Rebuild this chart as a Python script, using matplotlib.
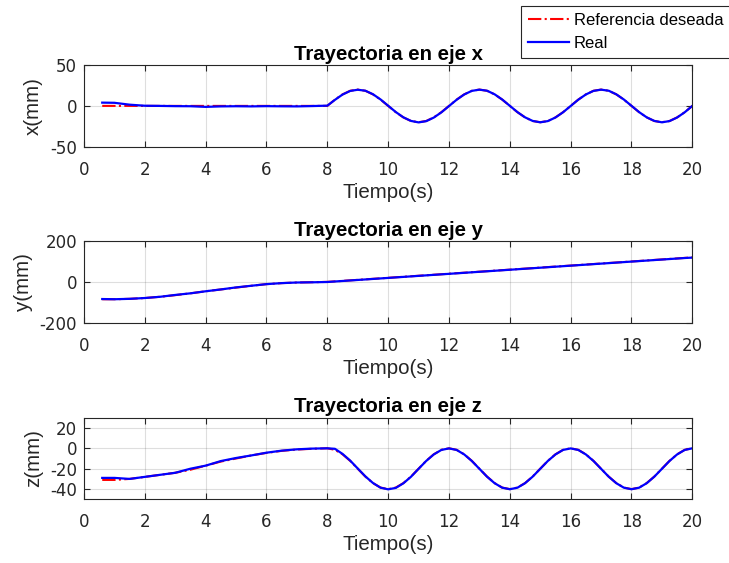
import numpy as np
import matplotlib.pyplot as plt

# tick labels look wide in the original, DejaVu Sans is closer; the rest is Arial-like
plt.rcParams['font.family'] = ['DejaVu Sans']
plt.rcParams['axes.unicode_minus'] = False
txt_font = ['Liberation Sans', 'DejaVu Sans']

# tiempo (s)
t = [0.6, 1.0, 1.5, 2.0, 2.5, 3.0, 3.5, 4.0, 4.5, 5.0, 5.5, 6.0, 6.5, 7.0, 7.5,
     8.0, 8.25, 8.5, 8.75, 9.0, 9.25, 9.5, 9.75, 10.0, 10.25, 10.5, 10.75, 11.0,
     11.25, 11.5, 11.75, 12.0, 12.25, 12.5, 12.75, 13.0, 13.25, 13.5, 13.75, 14.0,
     14.25, 14.5, 14.75, 15.0, 15.25, 15.5, 15.75, 16.0, 16.25, 16.5, 16.75, 17.0,
     17.25, 17.5, 17.75, 18.0, 18.25, 18.5, 18.75, 19.0, 19.25, 19.5, 19.75, 20.0]

# eje x
x_ref = [0, 0, 0, 0, 0, 0, 0, 0, 0, 0, 0, 0, 0, 0, 0,
         0, 7.7, 14.1, 18.5, 20, 18.5, 14.1, 7.7, 0, -7.7, -14.1, -18.5, -20,
         -18.5, -14.1, -7.7, 0, 7.7, 14.1, 18.5, 20, 18.5, 14.1, 7.7, 0,
         -7.7, -14.1, -18.5, -20, -18.5, -14.1, -7.7, 0, 7.7, 14.1, 18.5, 20,
         18.5, 14.1, 7.7, 0, -7.7, -14.1, -18.5, -20, -18.5, -14.1, -7.7, 0]
x_real = [4.0, 3.8, 1.5, 0.2, 0.0, -0.3, -0.4, -1.2, -0.6, -0.4, -0.6, -0.3, -0.5, -0.6, -0.2,
          0.3, 7.4, 13.9, 18.3, 19.8, 18.6, 14.3, 7.9, 0.2, -7.5, -14.0, -18.4, -20.2,
          -18.7, -14.3, -7.9, -0.2, 7.5, 14.0, 18.4, 19.9, 18.6, 14.2, 7.8, 0.1,
          -7.6, -14.0, -18.4, -20.1, -18.6, -14.2, -7.8, -0.1, 7.6, 14.0, 18.4, 19.9,
          18.6, 14.2, 7.8, 0.1, -7.6, -14.0, -18.4, -20.1, -18.6, -14.2, -7.8, 0.0]

# eje y
y_ref = [-85, -85, -83, -79, -73, -65, -56, -46, -37, -28, -19, -11, -6, -3, -1.5,
         0, 2.5, 5, 7.5, 10, 12.5, 15, 17.5, 20, 22.5, 25, 27.5, 30,
         32.5, 35, 37.5, 40, 42.5, 45, 47.5, 50, 52.5, 55, 57.5, 60,
         62.5, 65, 67.5, 70, 72.5, 75, 77.5, 80, 82.5, 85, 87.5, 90,
         92.5, 95, 97.5, 100, 102.5, 105, 107.5, 110, 112.5, 115, 117.5, 120]
y_real = [-84, -85, -83, -79, -73, -64, -56, -46, -37, -27, -19, -11, -6, -3, -2,
          -0.5, 2, 4.5, 7, 9.5, 12, 14.5, 17, 19.5, 22, 24.5, 27, 29.5,
          32, 34.5, 37, 39.5, 42, 44.5, 47, 49.5, 52, 54.5, 57, 59.5,
          62, 64.5, 67, 69.5, 72, 74.5, 77, 79.5, 82, 84.5, 87, 89.5,
          92, 94.5, 97, 99.5, 102, 104.5, 107, 109.5, 112, 114.5, 117, 119]

# eje z
z_ref = [-31, -31, -30, -28, -26, -24, -21, -17, -13, -10, -7, -4.5, -2.5, -1.2, -0.5,
         0, -1.5, -5.9, -12.3, -20, -27.7, -34.1, -38.5, -40, -38.5, -34.1, -27.7, -20,
         -12.3, -5.9, -1.5, 0, -1.5, -5.9, -12.3, -20, -27.7, -34.1, -38.5, -40,
         -38.5, -34.1, -27.7, -20, -12.3, -5.9, -1.5, 0, -1.5, -5.9, -12.3, -20,
         -27.7, -34.1, -38.5, -40, -38.5, -34.1, -27.7, -20, -12.3, -5.9, -1.5, 0]
z_real = [-29, -29, -30, -28, -26, -24, -20, -17, -12.5, -9.5, -7, -4.3, -2.3, -1.0, -0.3,
          0, -0.5, -5.5, -12, -19.8, -27.5, -34, -38.6, -40.2, -38.8, -34.3, -27.9, -20.1,
          -12.4, -6.0, -1.6, -0.1, -1.6, -6.0, -12.4, -20.1, -27.8, -34.2, -38.6, -40.1,
          -38.6, -34.2, -27.8, -20.1, -12.4, -6.0, -1.6, -0.1, -1.6, -6.0, -12.4, -20.1,
          -27.8, -34.2, -38.6, -40.1, -38.6, -34.2, -27.8, -20.1, -12.4, -6.0, -1.6, 0]

titles = ["Trayectoria en eje x", "Trayectoria en eje y", "Trayectoria en eje z"]
ylabels = ["x(mm)", "y(mm)", "z(mm)"]
ylims = [(-50, 50), (-200, 200), (-50, 30)]
yticks = [[-50, 0, 50], [-200, 0, 200], [-40, -20, 0, 20]]
bottoms = [0.7394, 0.4268, 0.1131]

edge = (0.15, 0.15, 0.15)
fig = plt.figure(figsize=(7.29, 5.63), dpi=100)

for i, (ref, real) in enumerate([(x_ref, x_real), (y_ref, y_real), (z_ref, z_real)]):
    ax = fig.add_axes([0.1152, bottoms[i], 0.8345, 0.145])
    ax.plot(t, ref, color='r', linestyle='-.', linewidth=1.5, label='Referencia deseada')
    ax.plot(t, real, color='b', linestyle='-', linewidth=1.6, label='Real')
    ax.set_xlim(0, 20)
    ax.set_xticks(range(0, 21, 2))
    ax.set_ylim(*ylims[i])
    ax.set_yticks(yticks[i])
    ax.grid(True, color=edge, alpha=0.15, linewidth=0.8)
    ax.tick_params(direction='in', top=True, right=True, labelsize=12,
                   colors=edge, labelcolor=edge, length=4)
    ax.tick_params(axis='x', pad=10)
    ax.tick_params(axis='y', pad=5)
    for s in ax.spines.values():
        s.set_color(edge)
        s.set_linewidth(0.8)
    ax.set_title(titles[i], fontsize=14.7, fontweight='bold', pad=4, family=txt_font)
    ax.set_xlabel("Tiempo(s)", fontsize=14.8, color=edge, labelpad=3, family=txt_font)
    ax.set_ylabel(ylabels[i], fontsize=14.8, color=edge, labelpad=5, family=txt_font)
    if i == 0:
        h, l = ax.get_legend_handles_labels()

leg = fig.legend(h, l, loc='upper left', bbox_to_anchor=(0.7147, 0.989),
                 prop={'family': txt_font, 'size': 12}, handlelength=2.45,
                 fancybox=False, framealpha=1, borderaxespad=0, handletextpad=0.3,
                 borderpad=0.4, labelspacing=0.5)
leg.get_frame().set_edgecolor(edge)
leg.get_frame().set_linewidth(0.8)

fig.savefig("out.png", dpi=100)
